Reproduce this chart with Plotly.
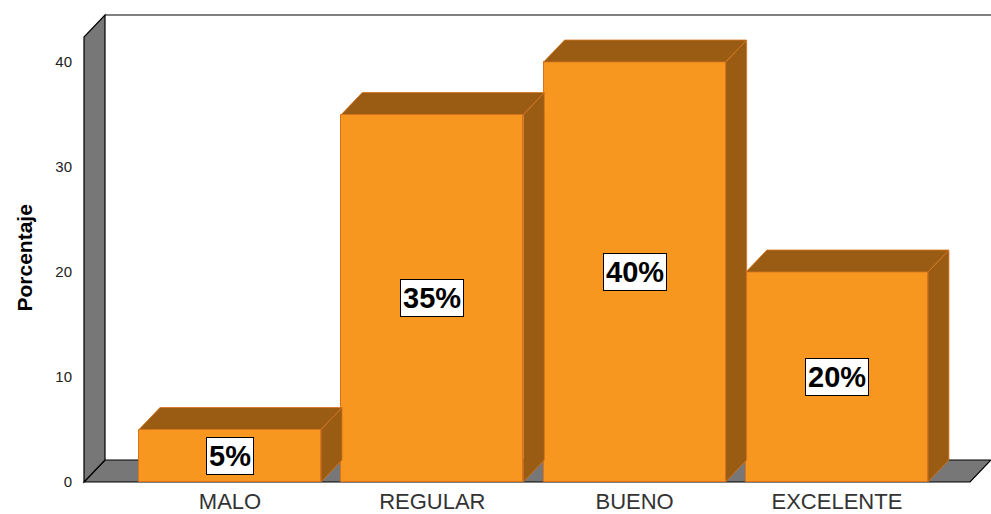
import plotly.graph_objects as go

# ---- data ----
categories = ["MALO", "REGULAR", "BUENO", "EXCELENTE"]
percentages = [5, 35, 40, 20]
value_labels = ["5%", "35%", "40%", "20%"]
y_ticks = [0, 10, 20, 30, 40]
y_title = "Porcentaje"

# ---- styling / layout constants ----
W, H = 991, 514
FRONT = "#F7971F"
DARK = "#9A5C13"
EDGE = "#D9731F"
WALL = "#777777"
ppx = 202.3          # px per category unit
ppy = 10.5           # px per percent unit
cx0_px = 230         # pixel of first category centre
y0_px = 482          # pixel of value 0
L, R, T, B = 80, 0, 10, 28
x_lo = (L - cx0_px) / ppx
x_hi = (W - R - cx0_px) / ppx
y_lo = -(H - B - y0_px) / ppy
y_hi = (y0_px - T) / ppy
half = 0.45          # half bar width
dx = 21 / ppx        # depth offset in x
dy = 22 / ppy        # depth offset in y
wall_x = (84 - cx0_px) / ppx
floor_r = (970 - cx0_px) / ppx
wall_top = (y0_px - 37) / ppy

xs = list(range(len(categories)))
fig = go.Figure()

def path(px, py):
    return "M " + " L ".join(f"{a},{b}" for a, b in zip(px, py)) + " Z"

# floor and wall (below the bars)
fig.add_shape(type="path", path=path([wall_x, floor_r, floor_r + dx, wall_x + dx], [0, 0, dy, dy]),
              fillcolor=WALL, line=dict(color="black", width=1.2), layer="below")
fig.add_shape(type="path", path=path([wall_x, wall_x, wall_x + dx, wall_x + dx], [0, wall_top, wall_top + dy, dy]),
              fillcolor=WALL, line=dict(color="black", width=1.2), layer="below")
fig.add_shape(type="line", x0=wall_x + dx, y0=wall_top + dy, x1=x_hi, y1=wall_top + dy,
              line=dict(color="black", width=1.2), layer="below")

def poly(px, py, fill, line, width=1):
    fig.add_trace(go.Scatter(x=px + [px[0]], y=py + [py[0]], mode="lines",
                             fill="toself", fillcolor=fill,
                             line=dict(color=line, width=width),
                             hoverinfo="skip", showlegend=False))

# bar fronts
fig.add_trace(go.Bar(x=xs, y=percentages, width=2 * half,
                     marker=dict(color=FRONT, line=dict(color=EDGE, width=1)),
                     hoverinfo="skip", showlegend=False))

# 3D faces of bars
for c, v in zip(xs, percentages):
    l, r = c - half, c + half
    poly([r, r + dx, r + dx, r], [0, dy, v + dy, v], DARK, EDGE, 0.8)
    poly([l, r, r + dx, l + dx], [v, v, v + dy, v + dy], DARK, EDGE, 0.8)

# value labels
for c, v, t in zip(xs, percentages, value_labels):
    fig.add_annotation(x=c, y=v / 2, text=f"<b>{t}</b>", showarrow=False,
                       font=dict(family="Liberation Sans, Arial", size=29, color="black"),
                       bgcolor="white", bordercolor="black", borderwidth=1, borderpad=2)

# y-axis title
fig.add_annotation(xref="paper", yref="paper", x=0, xshift=-(L - 10),
                   y=(H - B - 258) / (H - T - B),
                   text=f"<b>{y_title}</b>", textangle=-90, showarrow=False,
                   font=dict(family="Liberation Sans, Arial", size=21, color="black"))

fig.update_layout(
    width=W, height=H, margin=dict(l=L, r=R, t=T, b=B, autoexpand=False),
    plot_bgcolor="white", paper_bgcolor="white", bargap=0,
    xaxis=dict(range=[x_lo, x_hi], tickvals=xs, ticktext=categories, showgrid=False,
               zeroline=False, showline=False, ticks="", automargin=False,
               tickfont=dict(family="Liberation Sans, Arial", size=22, color="#333333")),
    yaxis=dict(range=[y_lo, y_hi], tickvals=y_ticks, showgrid=False, zeroline=False, showline=False,
               ticks="outside", ticklen=4, tickcolor="rgba(0,0,0,0)", automargin=False,
               tickfont=dict(family="Liberation Sans, Arial", size=15, color="#222222")),
)

fig.write_html("out.html", config={"displayModeBar": False},
               post_script="document.body.style.margin='0';document.body.style.overflow='hidden';")
